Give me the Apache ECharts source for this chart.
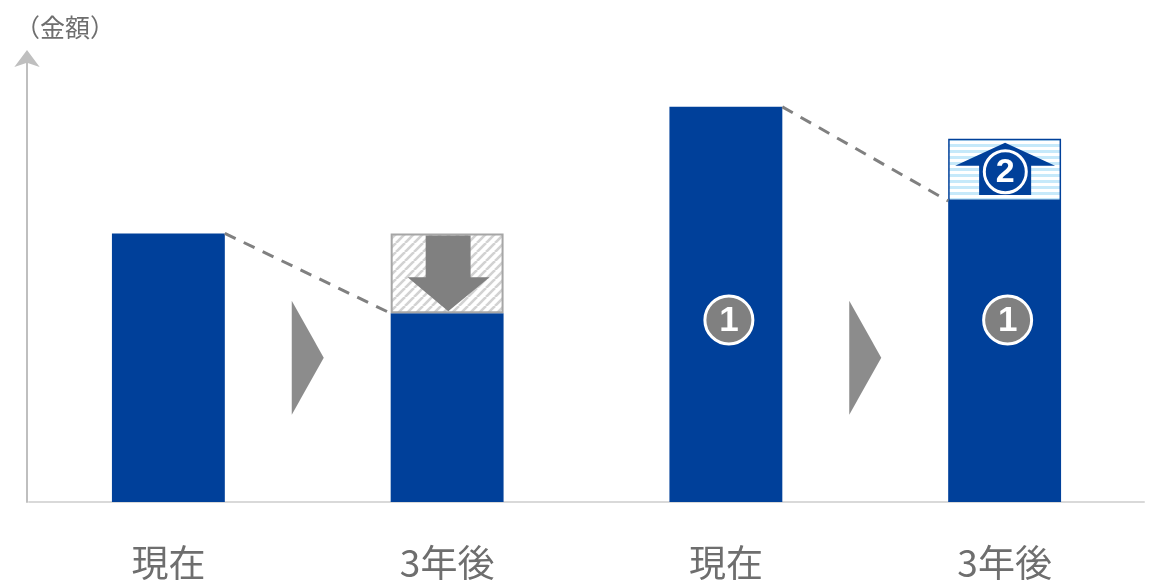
<!DOCTYPE html>
<html>
<head>
<meta charset="utf-8">
<script src="https://cdn.jsdelivr.net/npm/echarts@6/dist/echarts.min.js"></script>
<style>
  html, body { margin: 0; padding: 0; background: #fff; }
  #chart { width: 1157px; height: 582px; }
</style>
</head>
<body>
<div id="chart"></div>
<script>
const categories = ['現在', '3年後', '現在', '3年後']
const baseValues = [60.5, 42.5, 89, 67.8]
const decreaseValues = [null, 18, null, null]
const increaseValues = [null, null, null, 14]
const badgeNumbers = [null, null, '1', '1']
const badgeValue = 41
const connectors = [[0, 1], [2, 3]]

const BLUE = '#00409A'
const GRAY = '#808080'
const FONT = '"Noto Sans CJK JP", "Noto Sans", sans-serif'

// 斜線パターン
function hatchPattern () {
  let c = document.createElement('canvas')
  c.width = 9
  c.height = 9
  let ctx = c.getContext('2d')
  ctx.fillStyle = '#fff'
  ctx.fillRect(0, 0, 9, 9)
  ctx.strokeStyle = '#d2d2d2'
  ctx.lineWidth = 2.6
  ;[-9, 0, 9].forEach((o) => {
    ctx.beginPath()
    ctx.moveTo(o, 9)
    ctx.lineTo(o + 9, 0)
    ctx.stroke()
  })
  return c
}
// 横縞パターン
function stripePattern () {
  let c = document.createElement('canvas')
  c.width = 4
  c.height = 6
  let ctx = c.getContext('2d')
  ctx.fillStyle = '#fff'
  ctx.fillRect(0, 0, 4, 6)
  ctx.fillStyle = '#c6e9fa'
  ctx.fillRect(0, 0, 4, 3)
  return c
}

function totalAt (i) {
  return baseValues[i] + (decreaseValues[i] || 0) + (increaseValues[i] || 0)
}

let changeData = []
categories.forEach((c, i) => {
  if (decreaseValues[i] != null) changeData.push([i, baseValues[i], decreaseValues[i], -1])
  if (increaseValues[i] != null) changeData.push([i, baseValues[i], increaseValues[i], 1])
})
let badgeData = []
badgeNumbers.forEach((b, i) => {
  if (b) badgeData.push([i, badgeValue, b])
})

function poly (r, pts, color) {
  return {
    type: 'polygon',
    shape: { points: pts.map((p) => [r.x + p[0] * r.w, r.y + p[1] * r.h]) },
    style: { fill: color }
  }
}

function badge (cx, cy, rad, fill, text, size) {
  return [
    { type: 'circle', shape: { cx: cx, cy: cy, r: rad }, style: { fill: fill, stroke: '#fff', lineWidth: 3 } },
    { type: 'text', x: cx, y: cy + 1, style: { text: text, fill: '#fff', fontSize: size, fontWeight: 'bold', fontFamily: 'Liberation Sans, Arial, sans-serif', align: 'center', verticalAlign: 'middle' } }
  ]
}

let chart = echarts.init(document.getElementById('chart'))
chart.setOption({
  animation: false,
  title: {
    text: '（金額）',
    left: 10,
    top: 10,
    textStyle: { fontSize: 25, fontWeight: 'normal', color: '#6e6e6e', fontFamily: FONT }
  },
  grid: { left: 29, right: 13, top: 58, bottom: 80 },
  xAxis: {
    type: 'category',
    data: categories,
    axisTick: { show: false },
    axisLine: { lineStyle: { color: '#d9d9d9', width: 2 } },
    axisLabel: { fontSize: 37, color: '#6e6e6e', margin: 42, fontFamily: FONT }
  },
  yAxis: {
    type: 'value',
    min: 0,
    max: 100,
    offset: 2,
    splitLine: { show: false },
    axisLabel: { show: false },
    axisTick: { show: false },
    axisLine: {
      show: true,
      symbol: ['none', 'arrow'],
      symbolSize: [19, 17],
      symbolOffset: [0, 8],
      lineStyle: { color: '#bfbfbf', width: 2 }
    }
  },
  series: [
    {
      name: 'base',
      type: 'bar',
      stack: 'total',
      barWidth: '40.5%',
      data: baseValues,
      itemStyle: { color: BLUE }
    },
    {
      name: 'decrease',
      type: 'bar',
      stack: 'total',
      data: decreaseValues,
      itemStyle: { color: { image: hatchPattern(), repeat: 'repeat' }, borderColor: '#a6a6a6', borderWidth: 2 }
    },
    {
      name: 'increase',
      type: 'bar',
      stack: 'total',
      data: increaseValues,
      itemStyle: { color: { image: stripePattern(), repeat: 'repeat' }, borderColor: BLUE, borderWidth: 1.5 }
    },
    {
      // 増減の矢印
      type: 'custom',
      z: 5,
      data: changeData,
      renderItem: (params, api) => {
        let i = api.value(0)
        let w = api.size([1, 0])[0] * 0.405
        let bottom = api.coord([i, api.value(1)])
        let top = api.coord([i, api.value(1) + api.value(2)])
        let r = { x: bottom[0] - w / 2, y: top[1], w: w, h: bottom[1] - top[1] }
        if (api.value(3) < 0) {
          return poly(r, [[0.31, 0.025], [0.708, 0.025], [0.708, 0.55], [0.876, 0.55], [0.51, 0.975], [0.15, 0.55], [0.31, 0.55]], GRAY)
        }
        return {
          type: 'group',
          children: [poly(r, [[0.504, 0.065], [0.947, 0.435], [0.735, 0.435], [0.735, 0.903], [0.274, 0.903], [0.274, 0.435], [0.062, 0.435]], BLUE)]
            .concat(badge(r.x + r.w * 0.506, r.y + r.h * 0.53, 21, BLUE, '2', 34))
        }
      }
    },
    {
      // 丸数字
      type: 'custom',
      z: 5,
      data: badgeData,
      renderItem: (params, api) => {
        let p = api.coord([api.value(0), api.value(1)])
        return { type: 'group', children: badge(p[0] + 3, p[1], 24, GRAY, api.value(2), 35) }
      }
    },
    {
      // 点線と三角
      type: 'custom',
      z: 4,
      data: connectors,
      renderItem: (params, api) => {
        let a = api.value(0)
        let b = api.value(1)
        let w = api.size([1, 0])[0] * 0.405
        let pa = api.coord([a, totalAt(a)])
        let pb = api.coord([b, baseValues[b]])
        let mx = (pa[0] + pb[0]) / 2
        let my = api.coord([a, 32.5])[1]
        return {
          type: 'group',
          children: [
            {
              type: 'line',
              shape: { x1: pa[0] + w / 2, y1: pa[1], x2: pb[0] - w / 2, y2: pb[1] },
              style: { stroke: GRAY, lineWidth: 3, lineDash: [12, 9] }
            },
            {
              type: 'polygon',
              shape: { points: [[mx - 16, my - 57], [mx + 16, my], [mx - 16, my + 57]] },
              style: { fill: '#8c8c8c' }
            }
          ]
        }
      }
    }
  ]
})
</script>
</body>
</html>
